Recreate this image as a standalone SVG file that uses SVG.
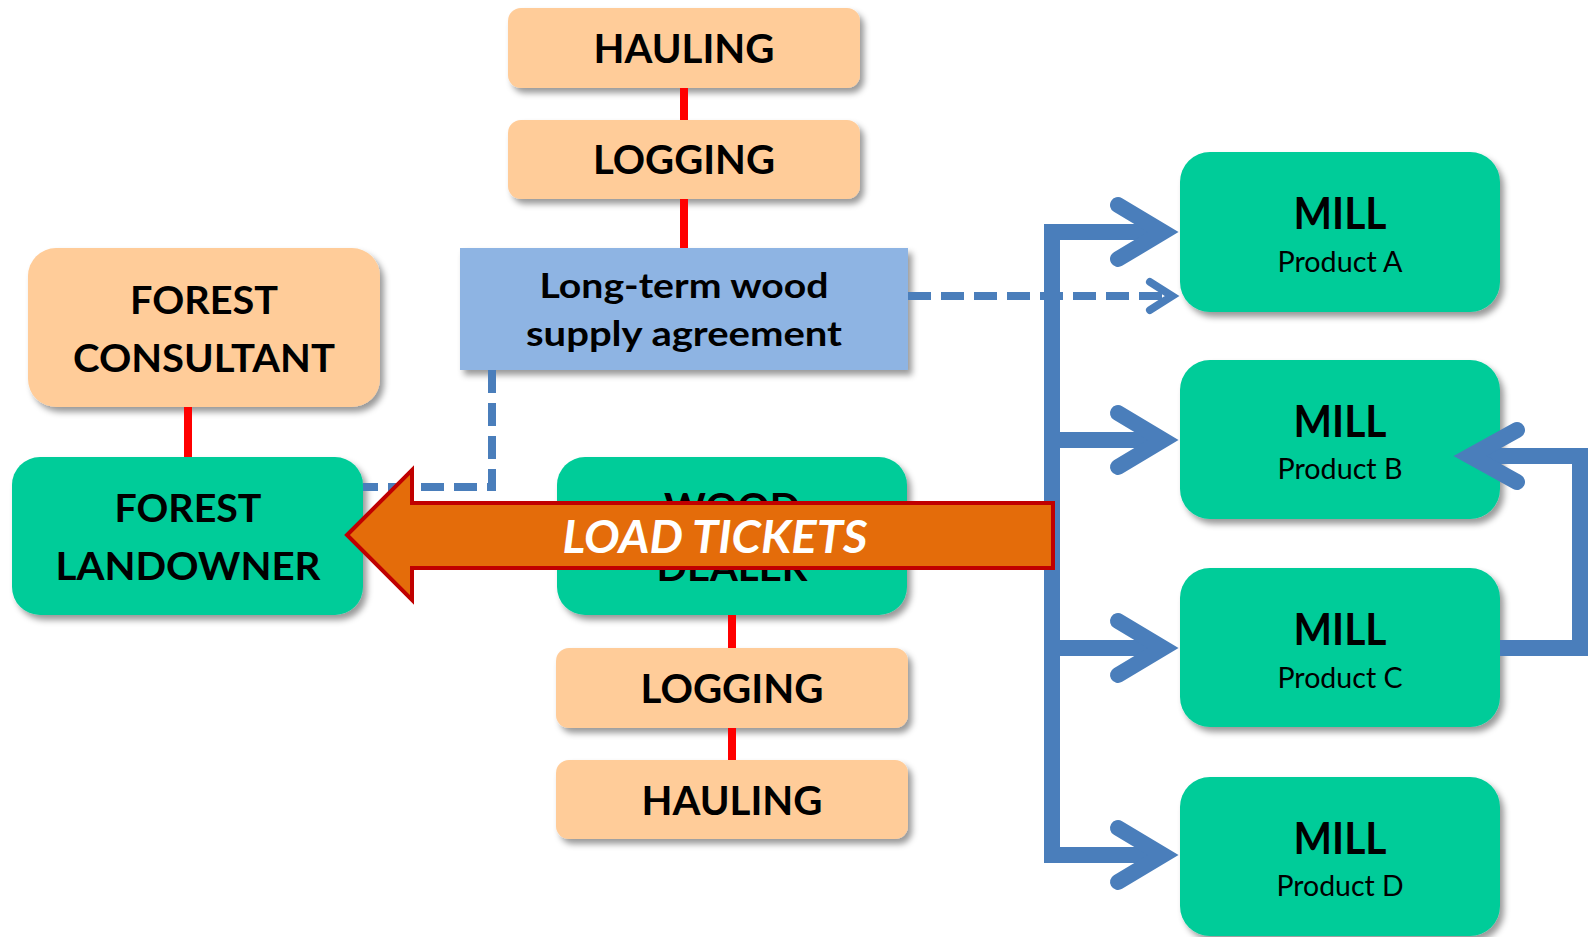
<svg xmlns="http://www.w3.org/2000/svg" width="1589" height="937" viewBox="0 0 1589 937">
<defs>
<filter id="sh" x="-10%" y="-10%" width="125%" height="130%">
<feDropShadow dx="4" dy="5" stdDeviation="3" flood-color="#000" flood-opacity="0.4"/>
</filter>
<style>
.peach{fill:#FFCC99;filter:url(#sh)}
.green{fill:#00CC99;filter:url(#sh)}
.agree{fill:#8EB4E3;filter:url(#sh)}
.t{font-family:Lato,"Liberation Sans",sans-serif;font-weight:bold;fill:#000;text-anchor:middle}
.big{font-size:41px}
.med{font-size:38px}
.mill{font-size:44px}
.prod{font-family:Lato,"Liberation Sans",sans-serif;font-size:28px;fill:#000;text-anchor:middle}
.ag{font-size:35px}
.red{stroke:#FF0000;stroke-width:8;fill:none}
.bus{stroke:#4A7EBB;stroke-width:16;fill:none}
.chev{stroke:#4A7EBB;stroke-width:16;fill:none;stroke-linecap:round;stroke-linejoin:miter;stroke-miterlimit:10}
.dash{stroke:#4A7EBB;stroke-width:8;fill:none;stroke-dasharray:23 10}
.chevs{stroke:#4A7EBB;stroke-width:8;fill:none;stroke-linecap:round;stroke-linejoin:miter;stroke-miterlimit:10}
</style>
</defs>
<rect width="1589" height="937" fill="#fff"/>
<g id="hauling-top">
<rect class="peach" x="508" y="8" width="352" height="80" rx="13"/>
<text class="t big" x="684" y="63" textLength="181" lengthAdjust="spacingAndGlyphs">HAULING</text>
</g>
<g id="logging-top">
<rect class="peach" x="508" y="120" width="352" height="79" rx="13"/>
<text class="t big" x="684" y="174" textLength="182" lengthAdjust="spacingAndGlyphs">LOGGING</text>
</g>
<g id="agreement">
<rect class="agree" x="460" y="248" width="448" height="122"/>
<text class="t ag" x="684" y="298" textLength="289" lengthAdjust="spacingAndGlyphs">Long-term wood</text>
<text class="t ag" x="684" y="346" textLength="316" lengthAdjust="spacingAndGlyphs">supply agreement</text>
</g>
<g id="forest-consultant">
<rect class="peach" x="28" y="248" width="352" height="159" rx="28"/>
<text class="t med" x="204" y="314" textLength="148" lengthAdjust="spacingAndGlyphs">FOREST</text>
<text class="t med" x="204" y="372" textLength="262" lengthAdjust="spacingAndGlyphs">CONSULTANT</text>
</g>
<g id="forest-landowner">
<rect class="green" x="12" y="457" width="351" height="158" rx="28"/>
<text class="t med" x="188" y="522" textLength="147" lengthAdjust="spacingAndGlyphs">FOREST</text>
<text class="t med" x="188" y="580" textLength="265" lengthAdjust="spacingAndGlyphs">LANDOWNER</text>
</g>
<g id="wood-dealer">
<rect class="green" x="557" y="457" width="350" height="158" rx="28"/>
<text class="t med" x="732" y="521" textLength="136" lengthAdjust="spacingAndGlyphs">WOOD</text>
<text class="t med" x="732" y="581" textLength="151" lengthAdjust="spacingAndGlyphs">DEALER</text>
</g>
<g id="logging-bottom">
<rect class="peach" x="556" y="648" width="352" height="80" rx="13"/>
<text class="t big" x="732" y="703" textLength="183" lengthAdjust="spacingAndGlyphs">LOGGING</text>
</g>
<g id="hauling-bottom">
<rect class="peach" x="556" y="760" width="352" height="79" rx="13"/>
<text class="t big" x="732" y="815" textLength="181" lengthAdjust="spacingAndGlyphs">HAULING</text>
</g>
<g id="mill-a">
<rect class="green" x="1180" y="152" width="320" height="160" rx="30"/>
<text class="t mill" x="1340" y="229" textLength="93" lengthAdjust="spacingAndGlyphs">MILL</text>
<text class="prod" x="1340" y="272" textLength="125" lengthAdjust="spacingAndGlyphs">Product A</text>
</g>
<g id="mill-b">
<rect class="green" x="1180" y="360" width="320" height="159" rx="30"/>
<text class="t mill" x="1340" y="437" textLength="93" lengthAdjust="spacingAndGlyphs">MILL</text>
<text class="prod" x="1340" y="479" textLength="125" lengthAdjust="spacingAndGlyphs">Product B</text>
</g>
<g id="mill-c">
<rect class="green" x="1180" y="568" width="320" height="159" rx="30"/>
<text class="t mill" x="1340" y="645" textLength="93" lengthAdjust="spacingAndGlyphs">MILL</text>
<text class="prod" x="1340" y="688" textLength="125" lengthAdjust="spacingAndGlyphs">Product C</text>
</g>
<g id="mill-d">
<rect class="green" x="1180" y="777" width="320" height="159" rx="30"/>
<text class="t mill" x="1340" y="854" textLength="93" lengthAdjust="spacingAndGlyphs">MILL</text>
<text class="prod" x="1340" y="896" textLength="127" lengthAdjust="spacingAndGlyphs">Product D</text>
</g>
<g id="connectors">
<line class="red" x1="684" y1="88" x2="684" y2="120"/>
<line class="red" x1="684" y1="199" x2="684" y2="248"/>
<line class="red" x1="188" y1="407" x2="188" y2="457"/>
<line class="red" x1="732" y1="615" x2="732" y2="648"/>
<line class="red" x1="732" y1="728" x2="732" y2="760"/>
<path class="dash" d="M492,370 V487 H363"/>
<line class="dash" x1="908" y1="296" x2="1168" y2="296"/>
<polyline class="chevs" points="1150,282 1172,296 1150,310"/>
<line class="bus" x1="1052" y1="224" x2="1052" y2="863"/>
<line class="bus" x1="1044" y1="232" x2="1165" y2="232"/>
<line class="bus" x1="1052" y1="440" x2="1165" y2="440"/>
<line class="bus" x1="1052" y1="648" x2="1165" y2="648"/>
<line class="bus" x1="1044" y1="855" x2="1165" y2="855"/>
<polyline class="chev" points="1118,205 1163,232 1118,259"/>
<polyline class="chev" points="1118,413 1163,440 1118,467"/>
<polyline class="chev" points="1118,621 1163,648 1118,675"/>
<polyline class="chev" points="1118,828 1163,855 1118,882"/>
<path class="bus" d="M1500,648 H1580 V456 H1468" stroke-linejoin="miter"/>
<polyline class="chev" points="1517,430 1470,456 1517,482"/>
</g>
<g id="load-tickets">
<polygon points="347,535 412,470 412,503 1053,503 1053,568 412,568 412,600" fill="#E46C0A" stroke="#C00000" stroke-width="4" stroke-linejoin="miter"/>
<text x="715" y="553" font-family="Lato,'Liberation Sans',sans-serif" font-weight="bold" font-style="italic" font-size="46" fill="#fff" text-anchor="middle" textLength="305" lengthAdjust="spacingAndGlyphs">LOAD TICKETS</text>
</g>
</svg>
